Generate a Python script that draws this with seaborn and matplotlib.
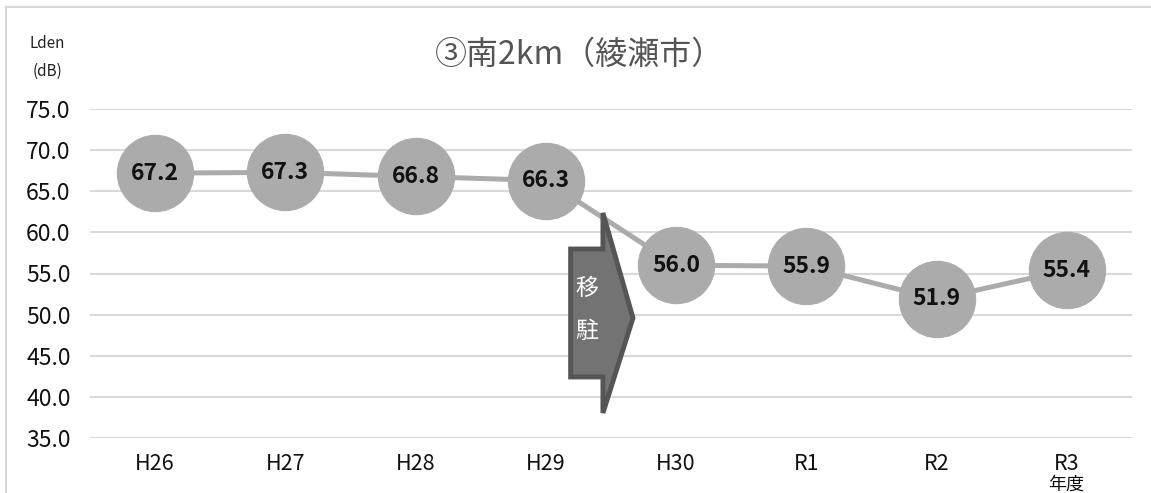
import matplotlib
matplotlib.use("Agg")
import matplotlib.pyplot as plt
import seaborn as sns
import pandas as pd
from matplotlib.patches import Polygon, Rectangle

# Annual Lden values at the south 2 km station
years = ["H26", "H27", "H28", "H29", "H30", "R1", "R2", "R3"]
lden = [67.2, 67.3, 66.8, 66.3, 56.0, 55.9, 51.9, 55.4]
y_ticks = [35, 40, 45, 50, 55, 60, 65, 70, 75]
title = "③南2km（綾瀬市）"

sns.set_theme(style="white")
plt.rcParams["font.family"] = ["Noto Sans CJK JP", "DejaVu Sans"]

df = pd.DataFrame({"year": years, "lden": lden})
df["pos"] = range(len(years))

fig = plt.figure(figsize=(11.51, 4.93), dpi=100)
ax = fig.add_axes([90 / 1151, 55 / 493, 1042 / 1151, 329 / 493])

grey = "#ababab"
sns.lineplot(data=df, x="pos", y="lden", ax=ax, color=grey, linewidth=3.6,
             marker="o", markersize=55, markerfacecolor=grey,
             markeredgecolor=grey, sort=False, zorder=3)

for p, v in zip(df["pos"], df["lden"]):
    ax.text(p, v, f"{v:.1f}", ha="center", va="center", fontsize=16.5,
            fontweight="bold", color="#111111", zorder=5)

ax.set_xlim(-0.5, len(years) - 0.5)
ax.set_ylim(min(y_ticks), max(y_ticks))
ax.set_yticks(y_ticks)
ax.set_yticklabels([f"{t:.1f}" for t in y_ticks], fontsize=16.5,
                   color="#111111")
ax.set_xticks(df["pos"])
ax.set_xticklabels(years, fontsize=15.5, color="#111111")
ax.tick_params(axis="y", length=0, pad=14)
ax.tick_params(axis="x", length=0, pad=11)
ax.set_xlabel("")
ax.set_ylabel("")
ax.grid(axis="y", color="#d9d9d9", linewidth=1.5)
ax.grid(axis="x", visible=False)
for s in ax.spines.values():
    s.set_visible(False)
ax.set_axisbelow(True)

# Relocation arrow between H29 and H30
arrow = [(3.19, 57.98), (3.438, 57.98), (3.438, 62.36), (3.669, 49.59),
         (3.438, 38.04), (3.438, 42.42), (3.19, 42.42)]
ax.add_patch(Polygon(arrow, closed=True, facecolor="#737373",
                     edgecolor="#555555", linewidth=3.5, zorder=4))
ax.text(3.315, 53.2, "移", ha="center", va="center", color="white",
        fontsize=16.5, zorder=6)
ax.text(3.315, 48.0, "駐", ha="center", va="center", color="white",
        fontsize=16.5, zorder=6)

# Title, axis unit and fiscal-year note
fig.text(580 / 1151, 1 - 55 / 493, title, ha="center", va="center",
         fontsize=23, color="#555555")
fig.text(47 / 1151, 1 - 43 / 493, "Lden", ha="center", va="center",
         fontsize=11, color="#222222")
fig.text(47 / 1151, 1 - 71 / 493, "(dB)", ha="center", va="center",
         fontsize=11, color="#222222")
fig.text(1066 / 1151, 1 - 485 / 493, "年度", ha="center", va="center",
         fontsize=13, color="#111111")

# Chart frame
fig.patches.append(Rectangle((6 / 1151, -0.2), 1.2, 1.2 - 7 / 493,
                             transform=fig.transFigure, fill=False,
                             edgecolor="#d9d9d9", linewidth=1.5, zorder=0))

fig.savefig("out.png", dpi=100, facecolor="white")
